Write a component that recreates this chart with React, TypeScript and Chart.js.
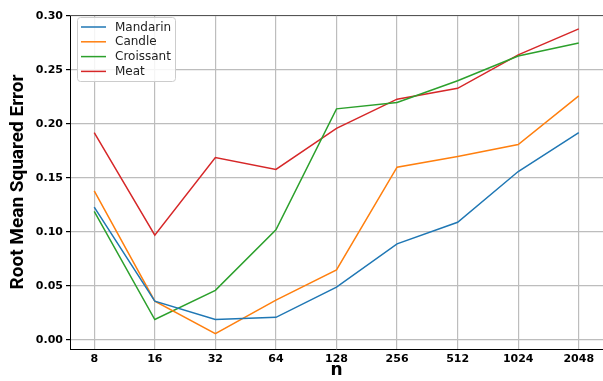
import React, { useEffect, useRef } from "react";
import { Chart, registerables } from "chart.js";

Chart.register(...registerables);

const categories = ["8", "16", "32", "64", "128", "256", "512", "1024", "2048"];
const mandarin = [0.123, 0.036, 0.019, 0.021, 0.049, 0.089, 0.109, 0.156, 0.192];
const candle = [0.138, 0.036, 0.006, 0.037, 0.065, 0.160, 0.170, 0.181, 0.226];
const croissant = [0.119, 0.019, 0.046, 0.102, 0.214, 0.220, 0.240, 0.263, 0.275];
const meat = [0.192, 0.097, 0.169, 0.158, 0.196, 0.223, 0.233, 0.264, 0.288];
const yTicks = [0, 0.05, 0.1, 0.15, 0.2, 0.25, 0.3];

const seriesNames = ["Mandarin", "Candle", "Croissant", "Meat"];
const seriesColors = ["#1f77b4", "#ff7f0e", "#2ca02c", "#d62728"];

const legendPlugin = {
  id: "insideLegend",
  afterDatasetsDraw(chart: any) {
    const ctx = chart.ctx;
    const { top } = chart.chartArea;
    const bx = 77, by = 17, bw = 98, bh = 64;
    ctx.save();
    // top spine
    ctx.strokeStyle = "#555";
    ctx.lineWidth = 1;
    ctx.beginPath();
    ctx.moveTo(chart.chartArea.left, top + 0.5);
    ctx.lineTo(chart.chartArea.right, top + 0.5);
    ctx.stroke();
    // legend box
    ctx.fillStyle = "rgba(255,255,255,0.85)";
    ctx.strokeStyle = "#cccccc";
    ctx.lineWidth = 1;
    ctx.beginPath();
    ctx.roundRect(bx + 0.5, by + 0.5, bw, bh, 3);
    ctx.fill();
    ctx.stroke();
    ctx.font = "12px 'DejaVu Sans'";
    ctx.textBaseline = "middle";
    ctx.textAlign = "left";
    chart.data.datasets.forEach((ds: any, i: number) => {
      const y = by + 10 + i * 14.8;
      ctx.strokeStyle = ds.borderColor;
      ctx.lineWidth = 1.5;
      ctx.beginPath();
      ctx.moveTo(bx + 4, y);
      ctx.lineTo(bx + 29, y);
      ctx.stroke();
      ctx.fillStyle = "#222";
      ctx.fillText(ds.label, bx + 38, y + 0.5);
    });
    ctx.restore();
  },
};

export default function App() {
  const ref = useRef<HTMLCanvasElement>(null);
  useEffect(() => {
    if (!ref.current) return;
    const allSeries = [mandarin, candle, croissant, meat];
    const chart = new Chart(ref.current, {
      type: "line",
      data: {
        datasets: allSeries.map((vals, i) => ({
          label: seriesNames[i],
          data: vals.map((v, j) => ({ x: j, y: v })),
          borderColor: seriesColors[i],
          backgroundColor: seriesColors[i],
          borderWidth: 1.5,
          pointRadius: 0,
          tension: 0,
          fill: false,
        })),
      },
      options: {
        animation: false,
        responsive: false,
        devicePixelRatio: 1,
        layout: { padding: { top: 15, right: 0, left: 0, bottom: 0 } },
        plugins: { legend: { display: false }, tooltip: { enabled: false } },
        scales: {
          x: {
            type: "linear",
            min: -0.4,
            max: 8.4,
            afterBuildTicks: (scale: any) => {
              scale.ticks = categories.map((_, i) => ({ value: i }));
            },
            afterFit: (scale: any) => {
              scale.height = 32;
            },
            ticks: {
              callback: (v: any) => categories[v as number] ?? "",
              color: "#000",
              font: { family: "DejaVu Sans", size: 11, weight: "bold" },
              padding: 4,
              maxRotation: 0,
              autoSkip: false,
            },
            grid: { color: "#bdbdbd", lineWidth: 1.2, drawTicks: false },
            border: { color: "#000", width: 1 },
            title: {
              display: true,
              text: "n",
              color: "#000",
              font: { family: "DejaVu Sans", size: 17, weight: "bold" },
              padding: { top: 0, bottom: 0 },
            },
          },
          y: {
            type: "linear",
            min: -0.0083,
            max: 0.3009,
            afterBuildTicks: (scale: any) => {
              scale.ticks = yTicks.map((v) => ({ value: v }));
            },
            afterFit: (scale: any) => {
              scale.width = 70;
            },
            ticks: {
              callback: (v: any) => Number(v).toFixed(2),
              color: "#000",
              font: { family: "DejaVu Sans", size: 11, weight: "bold" },
              padding: 3,
            },
            grid: { color: "#bdbdbd", lineWidth: 1.2, tickColor: "#000", tickLength: 4 },
            border: { color: "#000", width: 1 },
            title: {
              display: true,
              text: "Root Mean Squared Error",
              color: "#000",
              font: { family: "Roboto", size: 19, weight: "bold" },
              padding: { top: 7, bottom: 2 },
            },
          },
        },
      },
      plugins: [legendPlugin],
    } as any);
    return () => chart.destroy();
  }, []);
  return (
    <div style={{ position: "fixed", left: 0, top: 0, width: 603, height: 381, background: "#fff" }}>
      <canvas ref={ref} width={603} height={381} style={{ width: 603, height: 381 }} />
    </div>
  );
}
